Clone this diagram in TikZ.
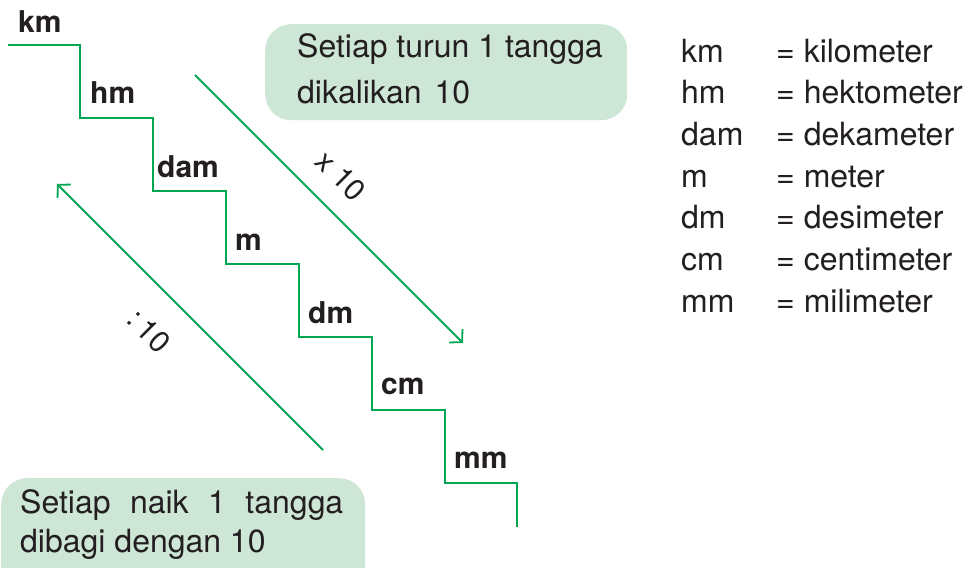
\documentclass[tikz,border=0pt]{standalone}
\usepackage{fontspec}
\setmainfont{TeX Gyre Heros}
\usetikzlibrary{arrows.meta}
\definecolor{stairgreen}{RGB}{0,166,81}
\definecolor{boxgreen}{RGB}{205,230,213}
\definecolor{txt}{RGB}{35,31,32}
\begin{document}
\begin{tikzpicture}[x=1pt,y=-1pt,
  stairline/.style={draw=stairgreen, line width=2.4pt},
  arrowline/.style={draw=stairgreen, line width=1.8pt, -{Straight Barb[length=9pt,width=19pt,line width=1.8pt]}},
  stairlabel/.style={anchor=base west, font=\fontsize{30}{36}\selectfont\bfseries, text=txt, inner sep=0pt},
  plaintext/.style={anchor=base west, font=\fontsize{32}{38}\selectfont, text=txt, inner sep=0pt},
  rotlabel/.style={font=\fontsize{30}{36}\selectfont, text=txt, inner sep=0pt, rotate=-45},
  notebox/.style={fill=boxgreen, rounded corners=26pt, draw=none, inner sep=0pt, anchor=north west}
]
\path[use as bounding box, clip] (0,0) rectangle (970,568);
\fill[white] (0,0) rectangle (970,568);

% boxes
\node[notebox, minimum width=362pt, minimum height=96pt] (topbox) at (265,24) {};
\node[notebox, minimum width=364pt, minimum height=130pt] (botbox) at (1,478) {};

\node[plaintext] (top1) at (297,57) {Setiap turun 1 tangga};
\node[plaintext] (top2) at (297,103) {dikalikan\hspace{4pt} 10};
\node[plaintext] (bot1) at (20,513) {\hbox to 323pt{Setiap\hfill naik\hfill 1\hfill tangga}};
\node[plaintext] (bot2) at (20,552) {dibagi dengan 10};

% staircase
\draw[stairline] (8,45) -- (80,45) -- (80,118) -- (153,118) -- (153,191) -- (226,191)
  -- (226,264) -- (299,264) -- (299,337) -- (372,337) -- (372,410) -- (445,410)
  -- (445,483) -- (517,483) -- (517,527);

% step labels
\node[stairlabel] (lkm) at (18,32) {km};
\node[stairlabel] (lhm) at (90,103) {hm};
\node[stairlabel] (ldam) at (157,177) {dam};
\node[stairlabel] (lm) at (235,250) {m};
\node[stairlabel] (ldm) at (308,323) {dm};
\node[stairlabel] (lcm) at (381,394) {cm};
\node[stairlabel] (lmm) at (454,468) {mm};

% arrows
\coordinate (dstart) at (195,75);
\coordinate (dend) at (463,343);
\coordinate (ustart) at (323,450);
\coordinate (uend) at (57,184);
\draw[arrowline] (dstart) -- (dend);
\draw[arrowline] (ustart) -- (uend);
\node[rotlabel] (times) at (341,176) {x 10};
\node[rotlabel] (divide) at (149,331) {:\,10};

% legend
\foreach \ab/\nm [count=\i from 0] in {km/kilometer, hm/hektometer, dam/dekameter, m/meter, dm/desimeter, cm/centimeter, mm/milimeter}{
  \node[plaintext] (ab\i) at (681,62+41.67*\i) {\ab};
  \node[plaintext] (nm\i) at (776,62+41.67*\i) {= \nm};
}
\end{tikzpicture}
\end{document}
